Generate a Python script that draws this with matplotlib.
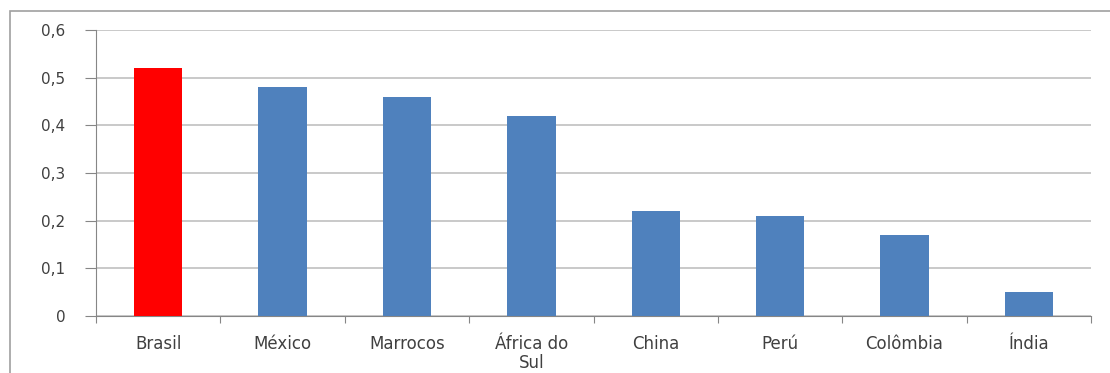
import numpy as np
import matplotlib
matplotlib.use("Agg")
import matplotlib.pyplot as plt
from matplotlib.patches import Rectangle

countries = ["Brasil", "México", "Marrocos", "África do\nSul", "China",
             "Perú", "Colômbia", "Índia"]
values = [0.52, 0.48, 0.46, 0.42, 0.22, 0.21, 0.17, 0.05]
highlight = "Brasil"
y_ticks = [0, 0.1, 0.2, 0.3, 0.4, 0.5, 0.6]
y_labels = ["0", "0,1", "0,2", "0,3", "0,4", "0,5", "0,6"]

BLUE = "#4f81bd"
RED = "#ff0000"
TEXT = "#404040"
GRID = "#c0c0c0"
AXIS = "#868686"

fig = plt.figure(figsize=(11.1, 3.73), dpi=100)
ax = fig.add_axes([0.0865, 0.1528, 0.8965, 0.7668])

# outer chart frame (runs off the right and bottom edges)
fig.patches.append(Rectangle((10 / 1110, -0.05), 1.2, (373 - 11) / 373 + 0.05,
                             transform=fig.transFigure, fill=False,
                             edgecolor="#a0a0a0", linewidth=1.2))

x = np.arange(len(countries))
colors = [RED if c == highlight else BLUE for c in countries]
ax.bar(x, values, width=0.39, color=colors, zorder=3)

ax.set_xlim(-0.5, len(countries) - 0.5)
ax.set_ylim(0, 0.6)
ax.set_yticks(y_ticks)
ax.set_yticklabels(y_labels, fontsize=11, color=TEXT)
ax.yaxis.grid(True, color=GRID, linewidth=1.2, zorder=0)

ax.set_xticks(np.arange(len(countries) + 1) - 0.5)
ax.set_xticklabels([])
ax.set_xticks(x, minor=True)
ax.set_xticklabels(countries, minor=True, fontsize=12, color=TEXT,
                   linespacing=1.05)
ax.tick_params(axis="x", which="minor", length=0, pad=14)
ax.tick_params(axis="x", which="major", length=5, color=AXIS)
ax.tick_params(axis="y", length=8, color=AXIS, pad=14)

for side in ["top", "right"]:
    ax.spines[side].set_visible(False)
ax.spines["left"].set_color(AXIS)
ax.spines["bottom"].set_color(AXIS)

plt.savefig("out.png", dpi=100)
plt.close()
